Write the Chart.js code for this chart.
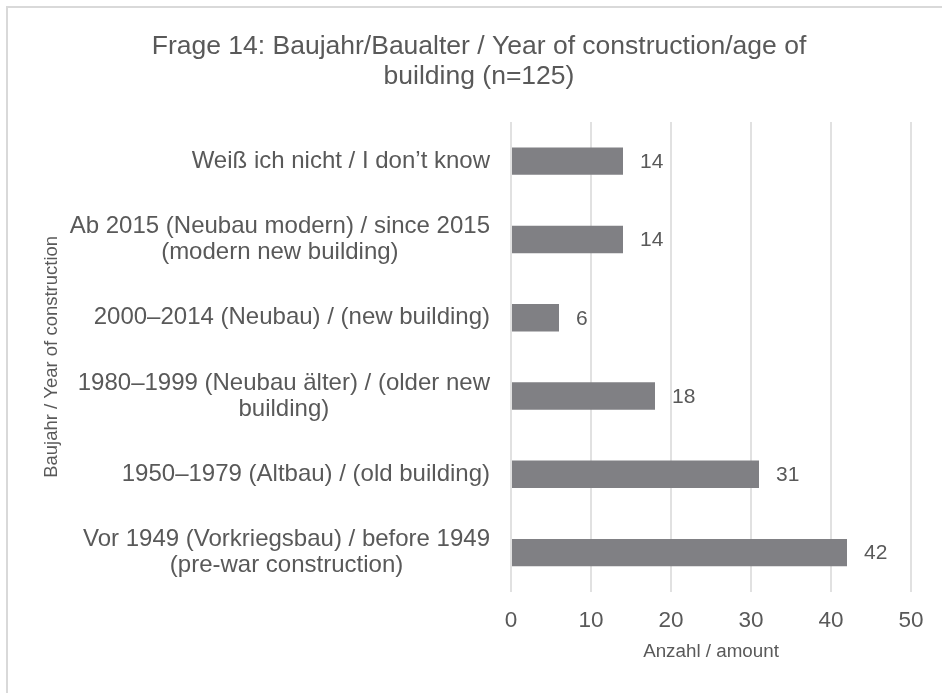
<!DOCTYPE html>
<html>
<head>
<meta charset="utf-8">
<script src="https://cdn.jsdelivr.net/npm/chart.js@4"></script>
<style>
  html, body { margin: 0; padding: 0; background: #fff; }
  #wrap { width: 942px; height: 693px; position: relative; }
</style>
</head>
<body>
<div id="wrap"><canvas id="buildingAge"></canvas></div>
<script>
const categories = [
  ["Weiß ich nicht / I don’t know"],
  ["Ab 2015 (Neubau modern) / since 2015", "(modern new building)"],
  ["2000–2014 (Neubau) / (new building)"],
  ["1980–1999 (Neubau älter) / (older new", "building)"],
  ["1950–1979 (Altbau) / (old building)"],
  ["Vor 1949 (Vorkriegsbau) / before 1949", "(pre-war construction)"],
];
const amounts = [14, 14, 6, 18, 31, 42];
const xTicks = [0, 10, 20, 30, 40, 50];

const FONT = "'Liberation Sans', Arial, sans-serif";
const TEXT = "#595959";

// light frame around the chart (only top/left edges visible in the original)
const framePlugin = {
  id: "frame",
  beforeDraw(chart) {
    const c = chart.ctx;
    c.save();
    c.strokeStyle = "#d9d9d9";
    c.lineWidth = 2;
    c.beginPath();
    c.moveTo(7, chart.height);
    c.lineTo(7, 7);
    c.lineTo(chart.width, 7);
    c.stroke();
    c.restore();
  },
};

// category labels: block right-aligned, lines centred inside the block
const catLabelPlugin = {
  id: "catLabels",
  afterDraw(chart) {
    const c = chart.ctx;
    const y = chart.scales.y;
    const right = chart.chartArea.left - 21;
    c.save();
    c.font = "24px " + FONT;
    c.fillStyle = TEXT;
    c.textAlign = "center";
    c.textBaseline = "middle";
    categories.forEach((lines, i) => {
      const w = Math.max(...lines.map((l) => c.measureText(l).width));
      const cx = right - w / 2;
      const cy = y.getPixelForTick(i);
      const lh = 26;
      lines.forEach((l, j) => {
        c.fillText(l, cx, cy - ((lines.length - 1) * lh) / 2 + j * lh);
      });
    });
    c.restore();
  },
};

// value labels at the end of each bar
const valueLabelPlugin = {
  id: "valueLabels",
  afterDatasetsDraw(chart) {
    const c = chart.ctx;
    const meta = chart.getDatasetMeta(0);
    c.save();
    c.font = "21px " + FONT;
    c.fillStyle = TEXT;
    c.textAlign = "left";
    c.textBaseline = "middle";
    meta.data.forEach((bar, i) => {
      c.fillText(String(amounts[i]), bar.x + 17, bar.y + 1);
    });
    c.restore();
  },
};

new Chart(document.getElementById("buildingAge"), {
  type: "bar",
  data: {
    labels: categories,
    datasets: [
      {
        label: "Anzahl / amount",
        data: amounts,
        backgroundColor: "#808084",
        borderWidth: 0,
        barPercentage: 0.35,
        categoryPercentage: 1,
      },
    ],
  },
  options: {
    indexAxis: "y",
    responsive: true,
    maintainAspectRatio: false,
    animation: false,
    layout: { padding: { top: 0, right: 31, bottom: 30, left: 47 } },
    plugins: {
      legend: { display: false },
      tooltip: { enabled: false },
      title: {
        display: true,
        text: [
          "Frage 14: Baujahr/Baualter / Year of construction/age of",
          "building (n=125)",
        ],
        color: TEXT,
        font: { family: FONT, size: 26.5, weight: "normal", lineHeight: 1.113 },
        padding: { top: 32, bottom: 31 },
      },
    },
    scales: {
      x: {
        type: "linear",
        min: 0,
        max: 50,
        afterBuildTicks: (s) => { s.ticks = xTicks.map((v) => ({ value: v })); },
        grid: { color: "#e1e1e1", lineWidth: 2, drawTicks: false },
        border: { display: false },
        ticks: {
          color: TEXT,
          font: { family: FONT, size: 22.5 },
          padding: 16,
        },
        title: {
          display: true,
          text: "Anzahl / amount",
          color: TEXT,
          font: { family: FONT, size: 18.8 },
          padding: { top: -10.3, bottom: 0 },
        },
      },
      y: {
        grid: { display: false },
        border: { display: false },
        ticks: { display: false, autoSkip: false },
        afterFit: (s) => { s.width = 511 - 47; },
        title: {
          display: true,
          text: "Baujahr / Year of construction",
          color: TEXT,
          font: { family: FONT, size: 18.5 },
          padding: { top: -6.1, bottom: 0 },
        },
      },
    },
  },
  plugins: [framePlugin, catLabelPlugin, valueLabelPlugin],
});
</script>
</body>
</html>
